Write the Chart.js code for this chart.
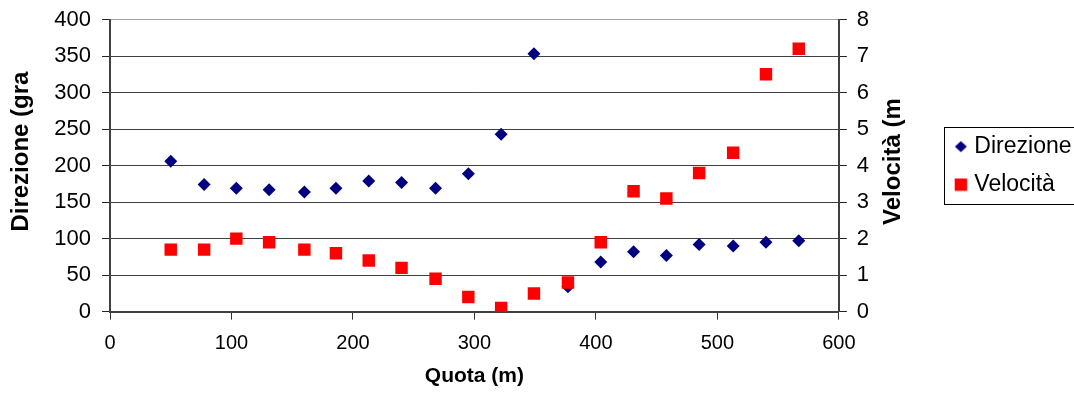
<!DOCTYPE html>
<html>
<head>
<meta charset="utf-8">
<script src="https://cdn.jsdelivr.net/npm/chart.js@4"></script>
<style>
  html, body { margin: 0; padding: 0; background: #fff; }
  #wrap { width: 1074px; height: 401px; }
</style>
</head>
<body>
<div id="wrap"><canvas id="c" width="1074" height="401"></canvas></div>
<script>
// ---- data ----
const quota = [50, 77.5, 104, 131, 160, 186, 213, 240, 268, 295, 322, 349, 377, 404, 431, 458, 485, 513, 540, 567];
const direzione = [206, 174, 169, 167, 164, 169, 179, 177, 169, 189, 243, 353, 34, 68, 82, 77, 92, 90, 95, 97];
const velocita = [1.7, 1.7, 2.0, 1.9, 1.7, 1.6, 1.4, 1.2, 0.9, 0.4, 0.1, 0.5, 0.8, 1.9, 3.3, 3.1, 3.8, 4.35, 6.5, 7.2];
const seriesNames = ['Direzione', 'Velocità'];
const xTitle = 'Quota (m)';
const yTitle = 'Direzione (gra';
const y2Title = 'Velocità (m';

const FONT = "'Liberation Sans', Arial, sans-serif";
const NARROW = "'Liberation Sans Narrow', 'Arial Narrow', 'Liberation Sans', Arial, sans-serif";
Chart.defaults.font.family = FONT;
Chart.defaults.color = '#000';

function makeMarker(kind, color) {
  const c = document.createElement('canvas');
  c.width = 14; c.height = 14;
  const g = c.getContext('2d');
  g.fillStyle = color;
  g.beginPath();
  if (kind === 'diamond') {
    g.moveTo(7, 1.5); g.lineTo(13, 7); g.lineTo(7, 12.5); g.lineTo(1, 7); g.closePath();
  } else {
    g.rect(0.8, 0.8, 12.4, 12.4);
  }
  g.fill();
  return c;
}
const markers = [makeMarker('diamond', '#000080'), makeMarker('square', '#ff0000')];

function drawVerticalTitle(ctx, text, x, y) {
  ctx.save();
  ctx.font = "bold 24px " + FONT;
  ctx.fillStyle = '#000';
  ctx.translate(x, y);
  ctx.rotate(-Math.PI / 2);
  ctx.textAlign = 'center';
  ctx.textBaseline = 'middle';
  ctx.fillText(text, 0, 0);
  ctx.restore();
}

const frameAndTitlePlugin = {
  id: 'frameAndTitle',
  afterDraw(chart) {
    const ctx = chart.ctx;
    const lg = chart.legend;
    if (lg && lg.legendHitBoxes && lg.legendHitBoxes.length) {
      const hb = lg.legendHitBoxes;
      const top = hb[0].top - 8;
      const bottom = hb[hb.length - 1].top + hb[hb.length - 1].height + 8;
      ctx.save();
      ctx.strokeStyle = '#000';
      ctx.lineWidth = 1;
      ctx.strokeRect(Math.round(lg.left) + 0.5, Math.round(top) + 0.5, chart.width, Math.round(bottom - top));
      ctx.restore();
    }
    const ca = chart.chartArea;
    const mid = (ca.top + ca.bottom) / 2;
    drawVerticalTitle(ctx, yTitle, ca.left - 89, mid - 14);
    drawVerticalTitle(ctx, y2Title, chart.scales.y2.left + 55, mid - 4);
  }
};

new Chart(document.getElementById('c'), {
  type: 'scatter',
  data: {
    datasets: [
      {
        label: seriesNames[0],
        data: quota.map((q, i) => ({ x: q, y: direzione[i] })),
        yAxisID: 'y',
        pointStyle: 'rectRot',
        pointRadius: 6.5,
        pointHoverRadius: 6.5,
        backgroundColor: '#000080',
        borderColor: '#000080',
        borderWidth: 0,
        order: 1
      },
      {
        label: seriesNames[1],
        data: quota.map((q, i) => ({ x: q, y: velocita[i] })),
        yAxisID: 'y2',
        pointStyle: 'rect',
        pointRadius: 8.8,
        pointHoverRadius: 8.8,
        backgroundColor: '#ff0000',
        borderColor: '#ff0000',
        borderWidth: 0,
        order: 0
      }
    ]
  },
  options: {
    responsive: false,
    animation: false,
    devicePixelRatio: 1,
    layout: { padding: { top: 19.5, left: 0, right: -7.5, bottom: 0 } },
    plugins: {
      tooltip: { enabled: false },
      legend: {
        position: 'right',
        fullSize: false,
        labels: {
          font: { size: 23, family: FONT },
          color: '#000',
          usePointStyle: true,
          boxWidth: 4,
          boxHeight: 14,
          padding: 15,
          generateLabels(chart) {
            return chart.data.datasets.map((ds, i) => ({
              text: ds.label,
              fillStyle: ds.backgroundColor,
              strokeStyle: ds.borderColor,
              lineWidth: 0,
              pointStyle: markers[i],
              hidden: false,
              datasetIndex: i,
              fontColor: '#000'
            }));
          }
        }
      }
    },
    scales: {
      x: {
        type: 'linear',
        position: 'bottom',
        min: 0, max: 600,
        ticks: { stepSize: 100, padding: 12, font: { size: 20, family: NARROW }, color: '#000', maxRotation: 0 },
        grid: { drawOnChartArea: false, drawTicks: true, tickLength: 8, color: '#333', tickColor: '#333' },
        border: { display: true, color: '#404040', width: 2 },
        title: { display: true, text: xTitle, font: { size: 21, weight: 'bold', family: NARROW }, color: '#000', padding: { top: 0, bottom: 12 } },
        afterFit(s) { s.height = 89.3; }
      },
      y: {
        type: 'linear',
        position: 'left',
        min: 0, max: 400,
        ticks: { stepSize: 50, padding: 11, font: { size: 22, family: FONT }, color: '#000' },
        grid: {
          drawOnChartArea: true, drawTicks: true, tickLength: 8,
          color: (c) => (c.tick && c.tick.value === 400 ? '#a0a0a0' : '#404040'),
          tickColor: '#222',
          lineWidth: 1
        },
        border: { display: true, color: '#404040', width: 2 },
        title: { display: false },
        afterFit(s) { s.width = 110; s.paddingTop = 0; s.paddingBottom = 0; }
      },
      y2: {
        type: 'linear',
        position: 'right',
        min: 0, max: 8,
        ticks: { stepSize: 1, padding: 10, font: { size: 22, family: FONT }, color: '#000' },
        grid: { drawOnChartArea: false, drawTicks: true, tickLength: 8, color: '#222', tickColor: '#222' },
        border: { display: true, color: '#404040', width: 2 },
        afterFit(s) { s.width = 105; s.paddingTop = 0; s.paddingBottom = 0; }
      }
    }
  },
  plugins: [frameAndTitlePlugin]
});
</script>
</body>
</html>
